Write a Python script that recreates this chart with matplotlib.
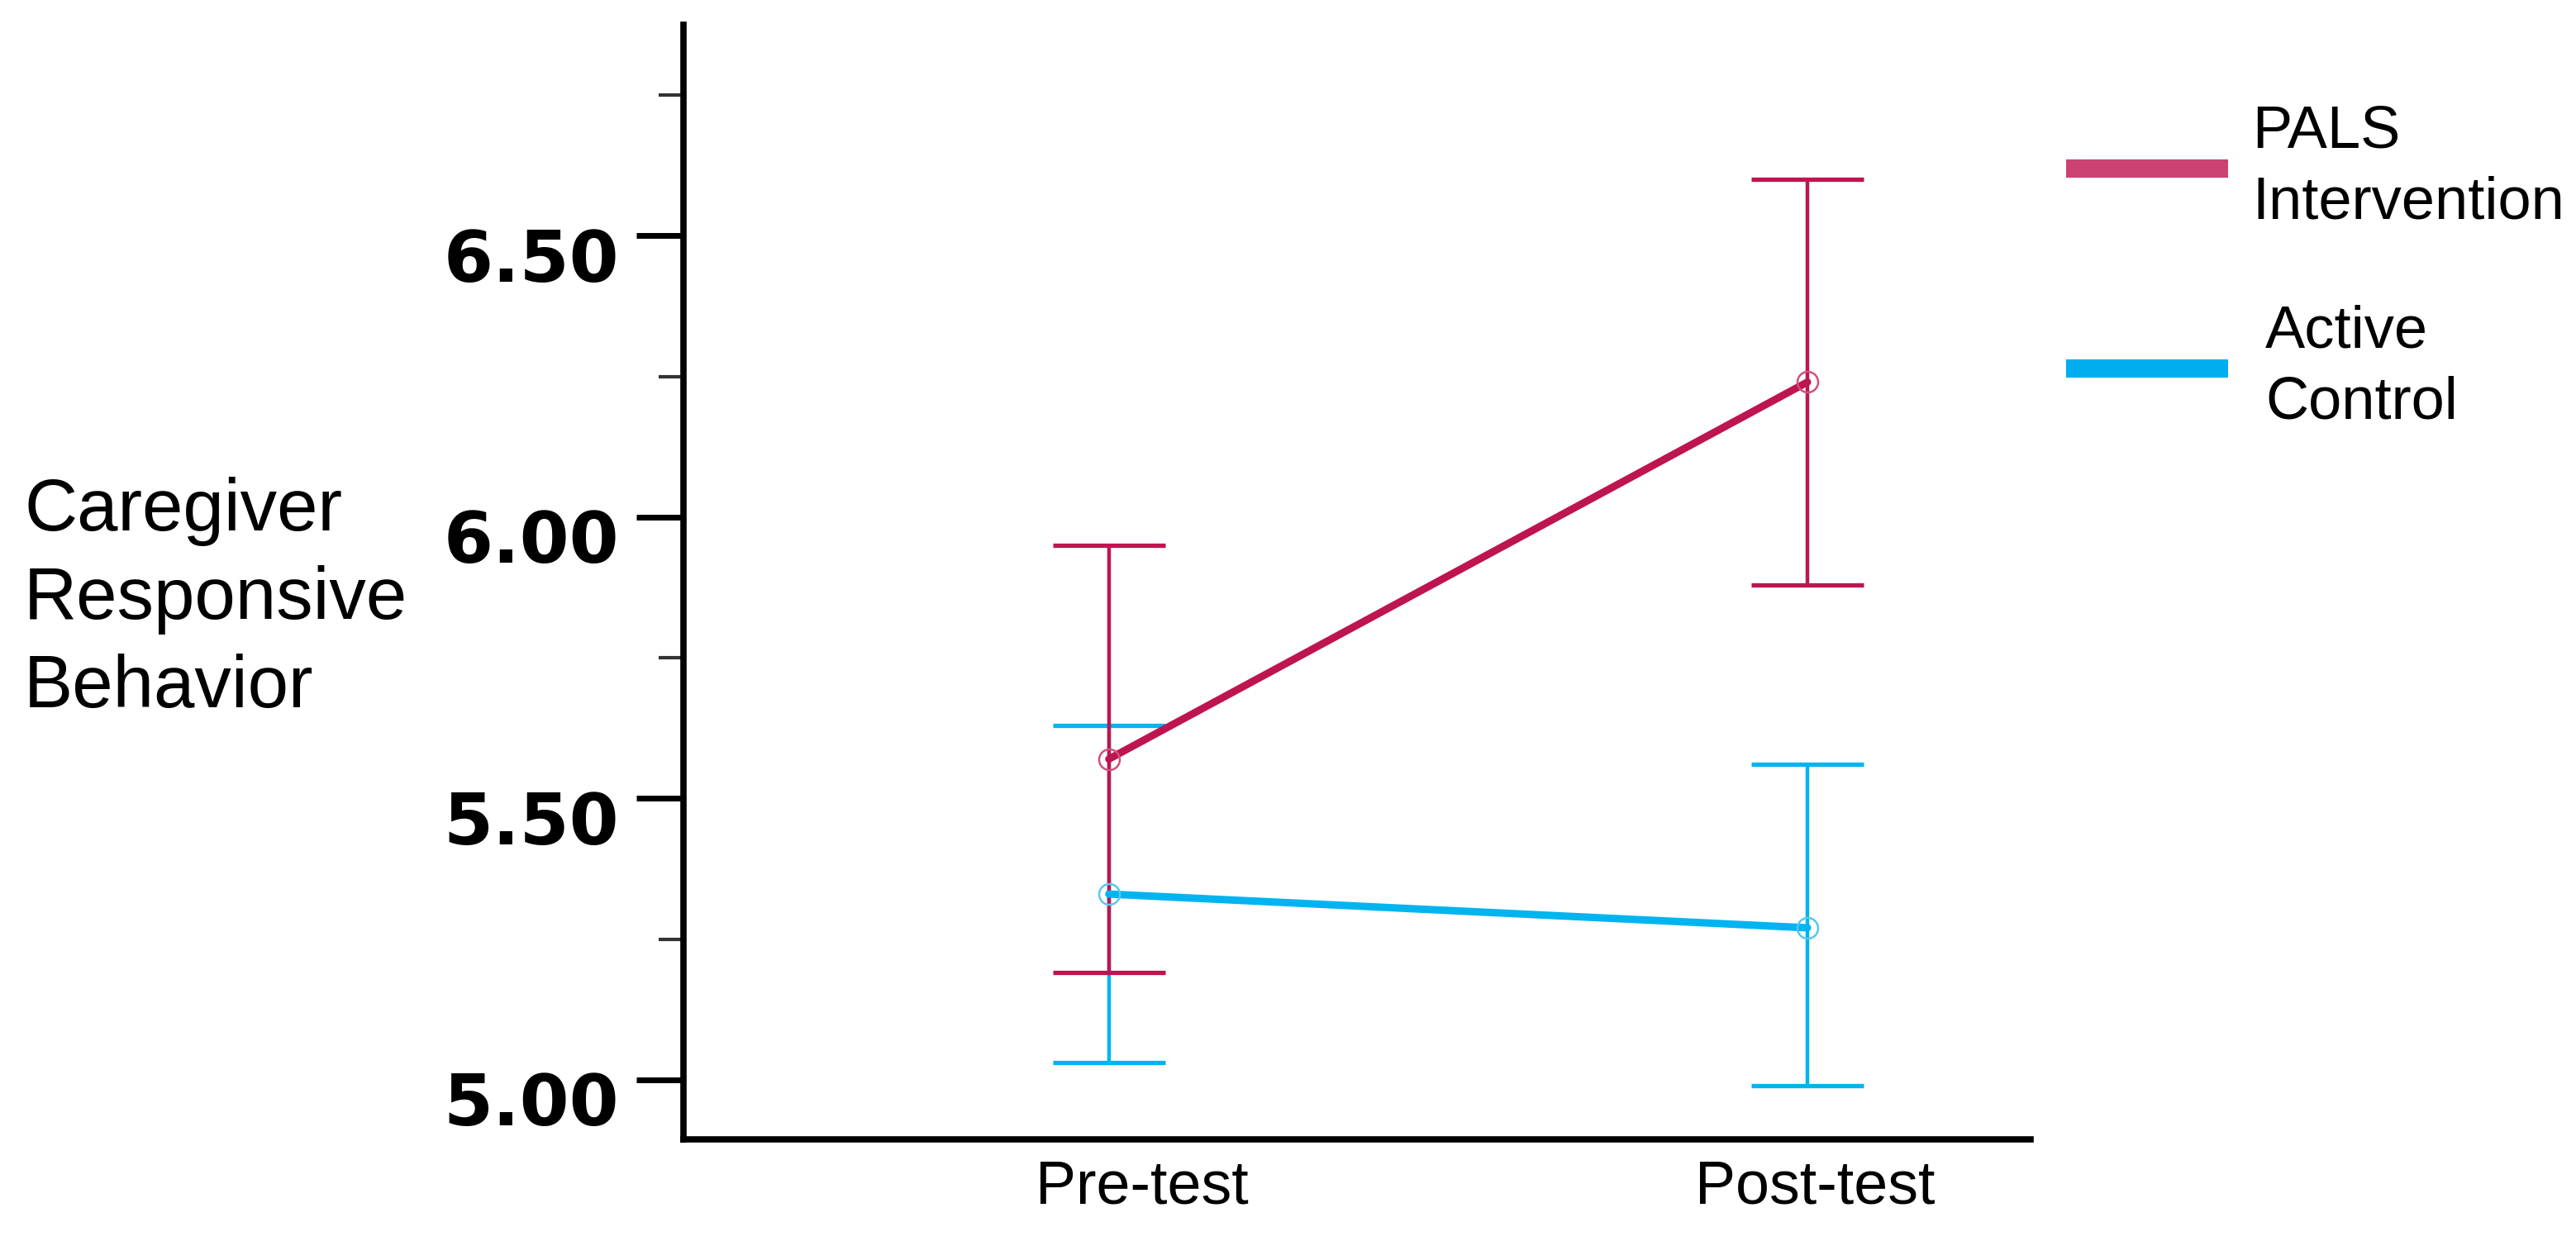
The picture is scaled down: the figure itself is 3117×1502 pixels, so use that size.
import numpy as np
import matplotlib
matplotlib.use('Agg')
from matplotlib import pyplot as plt
from matplotlib import transforms as mtransforms
from matplotlib.lines import Line2D

# data
time_labels = ['Pre-test', 'Post-test']
group_labels = ['PALS\nIntervention', 'Active\nControl']

pals_mean = [5.57, 6.24]
pals_lower = [5.19, 5.88]
pals_upper = [5.95, 6.60]

control_mean = [5.33, 5.27]
control_lower = [5.03, 4.99]
control_upper = [5.63, 5.56]

y_major = [5.00, 5.50, 6.00, 6.50]
y_minor = [5.25, 5.75, 6.25, 6.75]

# colours
pals_color = '#BE1450'
pals_marker = '#D0507E'
pals_legend = '#CC4273'
control_color = '#00B4F0'
control_marker = '#55C8F2'
control_legend = '#00AEEF'

DPI = 100
fig = plt.figure(figsize=(31.17, 15.02), dpi=DPI)
ax = fig.add_axes([0.2653, 0.0819, 0.5230, 0.8981])

x = np.arange(len(time_labels))

series = [
    (control_mean, control_lower, control_upper, control_color, control_marker),
    (pals_mean, pals_lower, pals_upper, pals_color, pals_marker),
]
for mean, lower, upper, color, mcolor in series:
    mean = np.array(mean)
    yerr = [mean - np.array(lower), np.array(upper) - mean]
    ax.errorbar(x, mean, yerr=yerr, fmt='none', ecolor=color,
                elinewidth=3.2, capsize=49, capthick=3.8, zorder=2)
for mean, lower, upper, color, mcolor in series:
    ax.plot(x, mean, color=color, lw=6.5, zorder=3, solid_capstyle='round')
    ax.plot(x, mean, 'o', ms=18, mfc='none', mec=mcolor, mew=1.8, zorder=4)

ax.set_xlim(-0.609, 1.3195)
ax.set_ylim(4.894, 6.875)

ax.set_yticks(y_major)
ax.set_yticklabels([f'{v:.2f}' for v in y_major])
ax.set_yticks(y_minor, minor=True)
ax.set_xticks(x)
ax.set_xticklabels(time_labels)

for side in ['top', 'right']:
    ax.spines[side].set_visible(False)
for side in ['left', 'bottom']:
    ax.spines[side].set_linewidth(5.5)

ax.tick_params(axis='y', which='major', length=41, width=5, pad=15, labelsize=62)
ax.tick_params(axis='y', which='minor', length=21.6, width=3, color='#333333')
ax.tick_params(axis='x', which='both', length=0, pad=17, labelsize=53)

# y tick labels sit a bit below their ticks in the original
y_shift = mtransforms.ScaledTranslation(0, -0.23, fig.dpi_scale_trans)
for lab in ax.get_yticklabels():
    lab.set_fontfamily('DejaVu Sans')
    lab.set_fontweight('bold')
    lab.set_transform(lab.get_transform() + y_shift)

x_shifts = [0.40, 0.09]
for lab, dx in zip(ax.get_xticklabels(), x_shifts):
    lab.set_fontfamily('Liberation Sans')
    lab.set_transform(lab.get_transform() + mtransforms.ScaledTranslation(dx, 0, fig.dpi_scale_trans))

fig.text(29 / 3117, 1 - 726 / 1502, 'Caregiver\nResponsive\nBehavior',
         ha='left', va='center', fontsize=64, family='Liberation Sans',
         linespacing=1.36)

handles = [Line2D([], [], color=pals_legend, lw=16, solid_capstyle='butt'),
           Line2D([], [], color=control_legend, lw=16, solid_capstyle='butt')]
leg = fig.legend(handles, group_labels, loc='upper left',
                 bbox_to_anchor=(2500 / 3117, 1 - 127 / 1502),
                 frameon=False, prop={'family': 'Liberation Sans', 'size': 52},
                 handlelength=2.72, handletextpad=0.4, labelspacing=1.23,
                 borderpad=0, borderaxespad=0)
for t in leg.get_texts():
    t.set_linespacing(1.36)
# second label starts a little further right in the original
t2 = leg.get_texts()[1]
t2.set_transform(t2.get_transform() + mtransforms.ScaledTranslation(0.16, 0, fig.dpi_scale_trans))

fig.savefig('out.png', dpi=DPI)
